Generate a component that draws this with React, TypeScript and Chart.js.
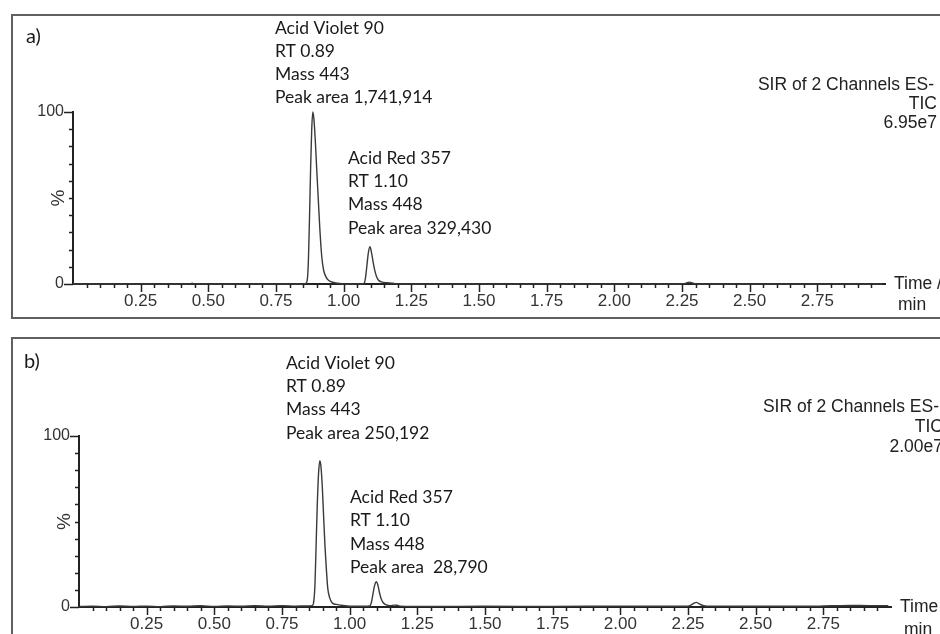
import React, { useEffect, useRef } from 'react';
import { Chart, registerables } from 'chart.js';

Chart.register(...registerables);

// ---------- data ----------
const timeA = [
  0.0, 0.2, 0.43, 0.44, 0.45, 0.7, 0.85, 0.86, 0.866, 0.87, 0.874, 0.878, 0.882, 0.886,
  0.89, 0.895, 0.9, 0.906, 0.912, 0.919, 0.926, 0.935, 0.945, 0.96, 0.98, 1.0, 1.07,
  1.076, 1.081, 1.086, 1.091, 1.097, 1.102, 1.108, 1.114, 1.121, 1.128, 1.14, 1.16,
  1.183, 1.195, 1.5, 2.0, 2.25, 2.265, 2.277, 2.29, 2.305, 2.99,
];
const signalA = [
  0, 0, 0, 0.4, 0, 0, 0, 0.3, 3, 15, 40, 68, 90, 100,
  96, 84, 68, 50, 32, 16, 8, 4, 2, 1, 0.4, 0, 0,
  0.5, 4, 11, 18, 21.7, 19, 13.5, 8.5, 4.5, 2.3, 1.2, 0.7,
  0.4, 0, 0, 0, 0, 0.5, 1.1, 0.5, 0, 0,
];

const timeB = [
  0.0, 0.05, 0.1, 0.15, 0.2, 0.25, 0.3, 0.35, 0.4, 0.45, 0.5, 0.55, 0.6, 0.65, 0.7, 0.75,
  0.8, 0.84, 0.862, 0.868, 0.872, 0.876, 0.88, 0.885, 0.89, 0.894, 0.899, 0.904, 0.909,
  0.914, 0.919, 0.926, 0.935, 0.95, 0.97, 0.99, 1.05, 1.074, 1.08, 1.086, 1.092, 1.099,
  1.104, 1.11, 1.116, 1.124, 1.135, 1.15, 1.165, 1.175, 1.185, 1.3, 1.5, 1.75, 2.0, 2.2,
  2.25, 2.262, 2.272, 2.281, 2.292, 2.305, 2.32, 2.5, 2.7, 2.78, 2.85, 2.92, 2.99,
];
const signalB = [
  0.3, 0.5, 0.2, 0.6, 0.3, 0.5, 0.2, 0.6, 0.4, 0.7, 0.3, 0.6, 0.4, 0.7, 0.5, 0.8,
  0.5, 0.6, 0.8, 4, 14, 36, 58, 78, 85.5, 82, 70, 52, 35,
  22, 11, 5.5, 2.5, 1.5, 1, 0.6, 0.4, 0.6, 2.5, 7.5, 12.5, 14.8,
  13, 8.5, 5, 2.5, 1.2, 0.8, 1.1, 1.0, 0.5, 0.3, 0.4, 0.3, 0.5, 0.4,
  0.5, 1.2, 2.2, 2.7, 1.8, 0.9, 0.5, 0.4, 0.4, 0.7, 0.9, 0.8, 0.8,
];

const xTickLabels = ['0.25', '0.50', '0.75', '1.00', '1.25', '1.50', '1.75', '2.00', '2.25', '2.50', '2.75'];
const yTickLabels = ['0', '100'];

const annotationA1 = ['Acid Violet 90', 'RT 0.89', 'Mass 443', 'Peak area 1,741,914'];
const annotationA2 = ['Acid Red 357', 'RT 1.10', 'Mass 448', 'Peak area 329,430'];
const annotationB1 = ['Acid Violet 90', 'RT 0.89', 'Mass 443', 'Peak area 250,192'];
const annotationB2 = ['Acid Red 357', 'RT 1.10', 'Mass 448', 'Peak area  28,790'];
const headerA = ['SIR of 2 Channels ES-', 'TIC', '6.95e7'];
const headerB = ['SIR of 2 Channels ES-', 'TIC', '2.00e7'];
const axisTitleX = ['Time /', 'min'];

// ---------- styling ----------
const NOTE_FONT = '17.5px Lato';
const SANS = 'Liberation Sans';
const SANS_FONT = '17.5px "Liberation Sans"';

type TextItem = { text: string; x: number; y: number; font: string; align?: CanvasTextAlign; color?: string };

type PanelProps = {
  top: number;
  height: number;
  area: { left: number; right: number; top: number; bottom: number };
  time: number[];
  signal: number[];
  texts: TextItem[];
};

function Panel({ top, height, area, time, signal, texts }: PanelProps) {
  const ref = useRef<HTMLCanvasElement>(null);

  useEffect(() => {
    const canvas = ref.current;
    if (!canvas) return;
    const W = 940;
    const H = height;

    const decorPlugin = {
      id: 'chromDecor',
      afterDraw(chart: any) {
        const { ctx, chartArea: ca } = chart;
        const xs = chart.scales.x;
        const ys = chart.scales.y;
        ctx.save();
        ctx.strokeStyle = '#222';
        ctx.lineWidth = 1.5;
        ctx.beginPath();
        for (let i = 1; i < 60; i++) {
          const px = Math.round(xs.getPixelForValue(i * 0.05)) + 0.5;
          const len = i % 5 === 0 ? 8 : 4;
          ctx.moveTo(px, ca.bottom);
          ctx.lineTo(px, ca.bottom + len);
        }
        for (let i = 0; i <= 10; i++) {
          const py = Math.round(ys.getPixelForValue(i * 10)) + 0.5;
          const len = i === 0 || i === 10 ? 9 : 4;
          ctx.moveTo(ca.left, py);
          ctx.lineTo(ca.left - len, py);
        }
        ctx.stroke();
        ctx.textBaseline = 'middle';
        for (const t of texts) {
          ctx.font = t.font;
          ctx.fillStyle = t.color || '#1a1a1a';
          ctx.textAlign = t.align || 'left';
          ctx.fillText(t.text, t.x, t.y);
        }
        ctx.restore();
      },
    };

    const chart = new Chart(canvas, {
      type: 'line',
      data: {
        datasets: [
          {
            data: time.map((t, i) => ({ x: t, y: signal[i] })),
            borderColor: '#3a3a3a',
            borderWidth: 1.4,
            pointRadius: 0,
            cubicInterpolationMode: 'monotone',
            fill: false,
            clip: 6,
          } as any,
        ],
      },
      options: {
        animation: false,
        responsive: false,
        maintainAspectRatio: false,
        layout: { padding: { left: 0, top: area.top, right: W - area.right, bottom: 0 } },
        plugins: { legend: { display: false }, tooltip: { enabled: false } },
        scales: {
          x: {
            type: 'linear',
            min: 0,
            max: 3,
            afterFit: (s: any) => {
              s.height = H - area.bottom;
            },
            grid: { display: true, drawOnChartArea: false, drawTicks: false },
            border: { display: true, color: '#222', width: 2 },
            ticks: {
              stepSize: 0.25,
              autoSkip: false,
              maxRotation: 0,
              padding: 7,
              color: '#333',
              font: { family: SANS, size: 17 },
              callback: (v: any) => {
                const idx = Math.round(Number(v) / 0.25) - 1;
                return idx >= 0 && idx < xTickLabels.length ? xTickLabels[idx] : '';
              },
            },
          },
          y: {
            min: 0,
            max: 100,
            afterFit: (s: any) => {
              s.width = area.left;
            },
            grid: { display: true, drawOnChartArea: false, drawTicks: false },
            border: { display: true, color: '#222', width: 2 },
            title: {
              display: true,
              text: '%',
              color: '#333',
              font: { family: SANS, size: 19 },
              padding: { top: area.left - 26, bottom: 0 },
            },
            ticks: {
              stepSize: 100,
              padding: 9,
              color: '#333',
              font: { family: SANS, size: 16 },
              callback: (v: any) => (Number(v) === 0 ? yTickLabels[0] : Number(v) === 100 ? yTickLabels[1] : ''),
            },
          },
        },
      },
      plugins: [decorPlugin],
    });
    return () => chart.destroy();
  }, []);

  return (
    <canvas
      ref={ref}
      width={940}
      height={height}
      style={{ position: 'absolute', left: 0, top, width: 940, height, display: 'block' }}
    />
  );
}

function noteItems(lines: string[], x: number, ys: number[]): TextItem[] {
  return lines.map((text, i) => ({ text, x, y: ys[i], font: NOTE_FONT }));
}

export default function App() {
  const textsA: TextItem[] = [
    { text: 'a)', x: 26, y: 37, font: '20px Lato' },
    ...noteItems(annotationA1, 275, [28, 51, 74, 97]),
    ...noteItems(annotationA2, 348, [158, 181, 204, 228]),
    { text: headerA[0], x: 934, y: 85, font: SANS_FONT, align: 'right', color: '#222' },
    { text: headerA[1], x: 937, y: 104, font: SANS_FONT, align: 'right', color: '#222' },
    { text: headerA[2], x: 937, y: 123, font: SANS_FONT, align: 'right', color: '#222' },
    { text: axisTitleX[0], x: 894, y: 284, font: SANS_FONT, color: '#222' },
    { text: axisTitleX[1], x: 898, y: 305, font: SANS_FONT, color: '#222' },
  ];
  const textsB: TextItem[] = [
    { text: 'b)', x: 24, y: 42, font: '20px Lato' },
    ...noteItems(annotationB1, 286, [43, 66, 89, 113]),
    ...noteItems(annotationB2, 350, [177, 200, 224, 247]),
    { text: headerB[0], x: 939, y: 87, font: SANS_FONT, align: 'right', color: '#222' },
    { text: headerB[1], x: 943, y: 107, font: SANS_FONT, align: 'right', color: '#222' },
    { text: headerB[2], x: 943, y: 127, font: SANS_FONT, align: 'right', color: '#222' },
    { text: axisTitleX[0], x: 900, y: 287, font: SANS_FONT, color: '#222' },
    { text: axisTitleX[1], x: 904, y: 310, font: SANS_FONT, color: '#222' },
  ];

  return (
    <div style={{ position: 'absolute', left: 0, top: 0, width: 940, height: 634, overflow: 'hidden', background: '#fff' }}>
      <div style={{ position: 'absolute', left: 11, top: 14, width: 1000, height: 305, border: '2px solid #606060', boxSizing: 'border-box' }} />
      <div style={{ position: 'absolute', left: 11, top: 337, width: 1000, height: 400, border: '2px solid #606060', boxSizing: 'border-box' }} />
      <Panel top={0} height={320} area={{ left: 73, right: 885, top: 112, bottom: 284 }} time={timeA} signal={signalA} texts={textsA} />
      <Panel top={320} height={314} area={{ left: 79, right: 891, top: 116, bottom: 287 }} time={timeB} signal={signalB} texts={textsB} />
    </div>
  );
}
